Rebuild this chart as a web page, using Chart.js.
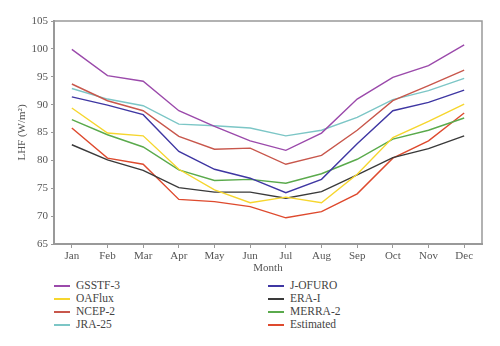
<!DOCTYPE html>
<html>
<head>
<meta charset="utf-8">
<script src="https://cdn.jsdelivr.net/npm/chart.js@4/dist/chart.umd.min.js"></script>
<style>
  html, body { margin: 0; padding: 0; background: #fff; }
  #wrap { position: relative; width: 500px; height: 346px; overflow: hidden; }
  #cv { position: absolute; left: 0; top: 0; }
  .leg { position: absolute; font-family: "Liberation Serif", serif; font-size: 11.5px; color: #444; line-height: 13px; }
  .leg .sw { position: absolute; left: 0; top: 6px; width: 16px; height: 1.5px; }
  .leg .tx { position: absolute; left: 22px; top: 0; white-space: nowrap; }
</style>
</head>
<body>
<div id="wrap">
  <div style="position:absolute;left:0;top:0;width:500px;height:275px;"><canvas id="cv" width="500" height="275"></canvas></div>
  <div id="legend"></div>
</div>
<script>
const months = ["Jan","Feb","Mar","Apr","May","Jun","Jul","Aug","Sep","Oct","Nov","Dec"];
const yTicks = [65,70,75,80,85,90,95,100,105];

const gsstf3   = [99.9, 95.2, 94.2, 88.9, 86.1, 83.5, 81.8, 84.9, 91.0, 94.9, 97.0, 100.7];
const jofuro   = [91.4, 89.9, 88.2, 81.6, 78.4, 76.8, 74.2, 76.6, 83.0, 88.9, 90.4, 92.6];
const oaflux   = [89.4, 84.9, 84.4, 78.4, 74.7, 72.4, 73.4, 72.4, 77.5, 84.1, 87.0, 90.1];
const erai     = [82.8, 80.1, 78.2, 75.1, 74.3, 74.3, 73.2, 74.4, 77.4, 80.5, 82.1, 84.4];
const ncep2    = [93.7, 90.7, 88.9, 84.3, 82.0, 82.2, 79.3, 80.9, 85.4, 90.7, 93.4, 96.2];
const merra2   = [87.3, 84.6, 82.4, 78.3, 76.4, 76.6, 75.9, 77.6, 80.2, 83.8, 85.4, 87.6];
const jra25    = [92.9, 91.0, 89.8, 86.5, 86.2, 85.8, 84.4, 85.4, 87.7, 90.9, 92.5, 94.7];
const estimated= [85.8, 80.4, 79.3, 73.0, 72.6, 71.7, 69.7, 70.8, 74.0, 80.4, 83.5, 88.5];

const series = [
  {label: "GSSTF-3",   data: gsstf3,    color: "#9b4aab"},
  {label: "J-OFURO",   data: jofuro,    color: "#3f37a3"},
  {label: "OAFlux",    data: oaflux,    color: "#f6d62e"},
  {label: "ERA-I",     data: erai,      color: "#3a3a3a"},
  {label: "NCEP-2",    data: ncep2,     color: "#c8574c"},
  {label: "MERRA-2",   data: merra2,    color: "#5aaa4c"},
  {label: "JRA-25",    data: jra25,     color: "#7cc6c6"},
  {label: "Estimated", data: estimated, color: "#de4a2e"}
];

const serif = "'Liberation Serif', 'DejaVu Serif', serif";

const framePlugin = {
  id: 'frame',
  afterDraw(chart) {
    const a = chart.chartArea, ctx = chart.ctx;
    ctx.save();
    ctx.strokeStyle = '#999';
    ctx.lineWidth = 1.5;
    ctx.beginPath();
    ctx.moveTo(a.left, a.top); ctx.lineTo(a.right, a.top); ctx.lineTo(a.right, a.bottom);
    ctx.stroke();
    ctx.restore();
  }
};

new Chart(document.getElementById('cv'), {
  type: 'line',
  data: {
    labels: months,
    datasets: series.map(s => ({
      label: s.label, data: s.data, borderColor: s.color, backgroundColor: s.color,
      borderWidth: 1.4, pointRadius: 0, tension: 0, fill: false
    }))
  },
  options: {
    responsive: false,
    animation: false,
    layout: { padding: { left: 0, right: 18, top: 21, bottom: 0 } },
    plugins: { legend: { display: false }, tooltip: { enabled: false } },
    scales: {
      x: {
        offset: true,
        grid: { display: true, drawOnChartArea: false, offset: false, tickLength: 4, color: '#999', tickColor: '#999' },
        border: { display: true, color: '#999', width: 2 },
        ticks: { color: '#555', font: { family: serif, size: 11 }, padding: 2, maxRotation: 0 },
        title: { display: true, text: 'Month', color: '#555', font: { family: serif, size: 11 }, padding: { top: 0, bottom: 0 } },
        afterFit(s) { s.height = 31; }
      },
      y: {
        min: 65, max: 105,
        afterBuildTicks(s) { s.ticks = yTicks.map(v => ({ value: v })); },
        grid: { display: true, drawOnChartArea: false, tickLength: 3, color: '#999', tickColor: '#999' },
        border: { display: true, color: '#999', width: 2 },
        ticks: { color: '#555', font: { family: serif, size: 11 }, padding: 3 },
        title: { display: true, text: 'LHF (W/m²)', color: '#555', font: { family: serif, size: 11 }, padding: { top: 16, bottom: 0 } },
        afterFit(s) { s.width = 54; }
      }
    }
  },
  plugins: [framePlugin]
});

// two-column legend (row-major order as in the reference)
const legend = document.getElementById('legend');
const colX = [54, 268];
const rowY = [279, 292, 305, 318];
series.forEach((s, i) => {
  const col = i % 2, row = Math.floor(i / 2);
  const d = document.createElement('div');
  d.className = 'leg';
  d.style.left = colX[col] + 'px';
  d.style.top = rowY[row] + 'px';
  d.innerHTML = '<span class="sw" style="background:' + s.color + '"></span><span class="tx"></span>';
  d.querySelector('.tx').textContent = s.label;
  legend.appendChild(d);
});
</script>
</body>
</html>
